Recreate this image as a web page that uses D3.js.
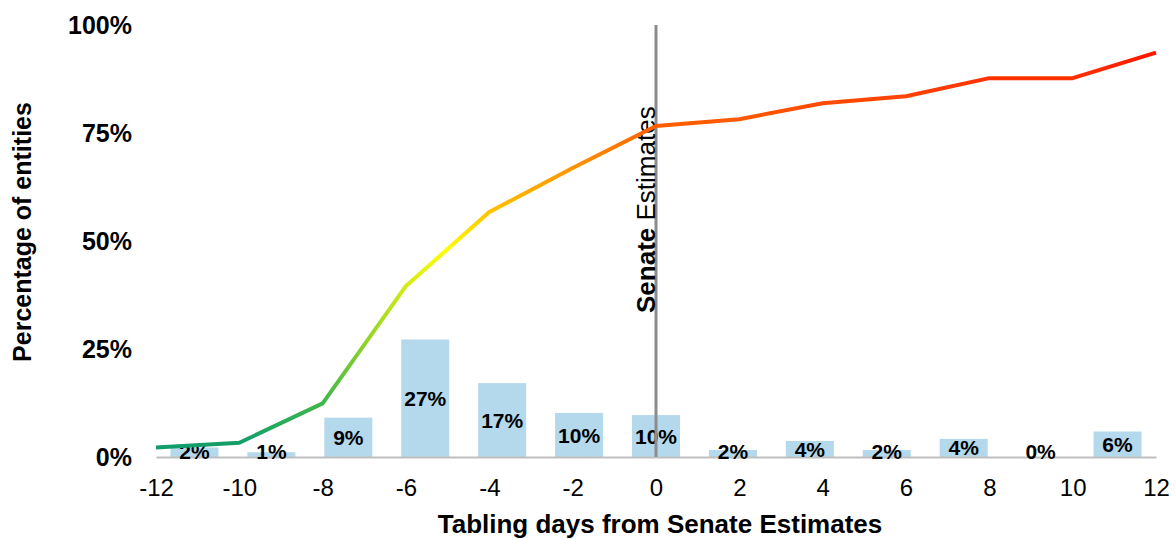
<!DOCTYPE html>
<html>
<head>
<meta charset="utf-8">
<style>
  body { margin: 0; background: #fff; }
  svg { display: block; font-family: "Liberation Sans", Arial, sans-serif; }
</style>
</head>
<body>
<svg id="chart" width="1176" height="540"></svg>
<script src="https://d3js.org/d3.v7.min.js"></script>
<script>
    // tabling day categories (bars sit in 13 bands across the -12..12 span)
    const barLabels = ["2%", "1%", "9%", "27%", "17%", "10%", "10%", "2%", "4%", "2%", "4%", "0%", "6%"];
    const barValues = [2.2, 1.1, 9.1, 27.2, 17.1, 10.2, 9.7, 1.6, 3.7, 1.6, 4.2, 0, 5.9];

    // cumulative share of entities, one point per even day
    const lineDays = [-12, -10, -8, -6, -4, -2, 0, 2, 4, 6, 8, 10, 12];
    const lineValues = [2.2, 3.3, 12.4, 39.6, 56.7, 66.9, 76.6, 78.2, 81.9, 83.5, 87.7, 87.7, 93.6];

    const xTicks = [-12, -10, -8, -6, -4, -2, 0, 2, 4, 6, 8, 10, 12];
    const yTicks = [0, 25, 50, 75, 100];

    // colour of the line by value (vertical gradient)
    const gradStops = [
        {v: 0, c: "#0e9870"},
        {v: 4, c: "#14a068"},
        {v: 12, c: "#3db64c"},
        {v: 26, c: "#8fd12c"},
        {v: 40, c: "#d6ec16"},
        {v: 48, c: "#ffff00"},
        {v: 57, c: "#ffc000"},
        {v: 67, c: "#ff9400"},
        {v: 76, c: "#ff6200"},
        {v: 86, c: "#ff3800"},
        {v: 95, c: "#ff1000"}
    ];

    const svg = d3.select("#chart");

    const x = d3.scaleLinear().domain([-12, 12]).range([156, 1156]);
    const xb = d3.scaleBand()
        .domain(d3.range(barValues.length))
        .range([156, 1156])
        .paddingInner(0.376)
        .paddingOuter(0.188);
    const y = d3.scaleLinear().domain([0, 100]).range([457, 25]);

    // gradient for the cumulative line
    const grad = svg.append("defs").append("linearGradient")
        .attr("id", "lineGrad")
        .attr("gradientUnits", "userSpaceOnUse")
        .attr("x1", 0).attr("x2", 0)
        .attr("y1", y(0)).attr("y2", y(100));
    grad.selectAll("stop")
        .data(gradStops)
        .enter().append("stop")
        .attr("offset", d => d.v / 100)
        .attr("stop-color", d => d.c);

    // bars
    svg.append("g").selectAll("rect")
        .data(barValues)
        .enter().append("rect")
        .attr("x", (d, i) => xb(i))
        .attr("y", d => y(d))
        .attr("width", xb.bandwidth())
        .attr("height", d => y(0) - y(d))
        .attr("fill", "#b4d8ec");

    // baseline axis
    const xAxis = d3.axisBottom(x).tickValues(xTicks).tickSize(0).tickPadding(22)
        .tickFormat(d => String(d));
    const gx = svg.append("g")
        .attr("transform", "translate(0," + y(0) + ")")
        .call(xAxis);
    gx.select(".domain").attr("stroke", "#bfbfbf").attr("stroke-width", 2);
    gx.selectAll("text")
        .attr("font-size", 24)
        .attr("font-family", "Liberation Sans, Arial, sans-serif")
        .attr("fill", "#000");

    // y axis labels only
    const yAxis = d3.axisLeft(y).tickValues(yTicks).tickSize(0).tickPadding(24)
        .tickFormat(d => d + "%");
    const gy = svg.append("g")
        .attr("transform", "translate(156,0)")
        .call(yAxis);
    gy.select(".domain").remove();
    gy.selectAll("text")
        .attr("font-size", 25)
        .attr("font-weight", "bold")
        .attr("font-family", "Liberation Sans, Arial, sans-serif")
        .attr("fill", "#000");

    // bar value labels
    svg.append("g").selectAll("text")
        .data(barValues)
        .enter().append("text")
        .attr("x", (d, i) => xb(i) + xb.bandwidth() / 2)
        .attr("y", d => Math.min((y(d) + y(0)) / 2, 451))
        .attr("dy", "0.36em")
        .attr("text-anchor", "middle")
        .attr("font-size", 21)
        .attr("font-weight", "bold")
        .text((d, i) => barLabels[i]);

    // Senate Estimates marker
    svg.append("line")
        .attr("x1", x(0)).attr("x2", x(0))
        .attr("y1", y(100)).attr("y2", y(0))
        .attr("stroke", "#8c8c8c")
        .attr("stroke-width", 3);

    const marker = svg.append("text")
        .attr("transform", "translate(" + (x(0) - 1) + ",313) rotate(-90)")
        .attr("font-size", 26);
    marker.append("tspan").attr("font-weight", "bold").text("Senate");
    marker.append("tspan").text(" Estimates");

    // cumulative line
    const line = d3.line()
        .x((d, i) => x(lineDays[i]))
        .y(d => y(d));
    svg.append("path")
        .datum(lineValues)
        .attr("d", line)
        .attr("fill", "none")
        .attr("stroke", "url(#lineGrad)")
        .attr("stroke-width", 4)
        .attr("stroke-linejoin", "round");

    // axis titles
    svg.append("text")
        .attr("x", 660)
        .attr("y", 533)
        .attr("text-anchor", "middle")
        .attr("font-size", 26)
        .attr("font-weight", "bold")
        .text("Tabling days from Senate Estimates");

    svg.append("text")
        .attr("transform", "translate(31,232) rotate(-90)")
        .attr("text-anchor", "middle")
        .attr("font-size", 25)
        .attr("font-weight", "bold")
        .text("Percentage of entities");
</script>
</body>
</html>
